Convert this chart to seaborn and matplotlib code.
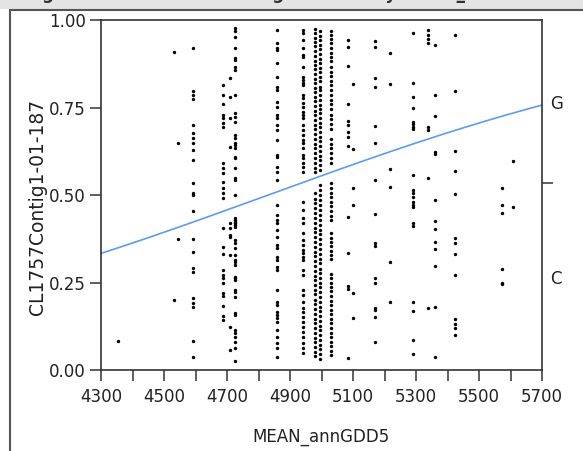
import numpy as np
import pandas as pd
import matplotlib
matplotlib.use("Agg")
import matplotlib.pyplot as plt
from matplotlib.lines import Line2D
from matplotlib.patches import Rectangle
import seaborn as sns

# Per-population GDD value (x) and the jittered response positions drawn for each
gdd_4354 = [0.083]
gdd_4533 = [0.909, 0.200]
gdd_4546 = [0.648, 0.374]
gdd_4593 = [0.920, 0.797, 0.786, 0.774, 0.700, 0.677, 0.663, 0.649, 0.629, 0.600,
            0.534, 0.506, 0.500, 0.454, 0.374, 0.337, 0.291, 0.280, 0.206, 0.191,
            0.180, 0.083, 0.037]
gdd_4686 = [0.814, 0.786, 0.760, 0.729, 0.720, 0.706, 0.694, 0.591, 0.577, 0.563,
            0.537, 0.520, 0.506, 0.491, 0.406, 0.351, 0.331, 0.286, 0.271, 0.263,
            0.249, 0.220, 0.211, 0.183, 0.154, 0.143]
gdd_4709 = [0.834, 0.780, 0.720, 0.637, 0.420, 0.406, 0.386, 0.380, 0.329, 0.123, 0.057]
gdd_4725 = [0.977, 0.969, 0.951, 0.920, 0.891, 0.886, 0.866, 0.857, 0.786, 0.734,
            0.723, 0.709, 0.671, 0.663, 0.649, 0.643, 0.634, 0.609, 0.606, 0.577,
            0.549, 0.543, 0.500, 0.434, 0.429, 0.423, 0.420, 0.414, 0.409, 0.371,
            0.363, 0.349, 0.329, 0.314, 0.309, 0.300, 0.266, 0.263, 0.257, 0.229,
            0.223, 0.209, 0.163, 0.157, 0.114, 0.106, 0.094, 0.080, 0.063, 0.026]
gdd_4860 = [0.971, 0.934, 0.920, 0.914, 0.877, 0.837, 0.809, 0.800, 0.766, 0.751,
            0.729, 0.720, 0.700, 0.686, 0.657, 0.614, 0.609, 0.580, 0.566, 0.543,
            0.471, 0.443, 0.429, 0.420, 0.400, 0.380, 0.357, 0.349, 0.323, 0.314,
            0.294, 0.286, 0.229, 0.194, 0.186, 0.166, 0.157, 0.149, 0.137, 0.114,
            0.094, 0.077, 0.063, 0.037]
gdd_4940 = [0.971, 0.963, 0.943, 0.920, 0.900, 0.894, 0.866, 0.837, 0.829, 0.820,
            0.814, 0.786, 0.777, 0.763, 0.751, 0.737, 0.729, 0.720, 0.700, 0.686,
            0.671, 0.657, 0.649, 0.634, 0.614, 0.606, 0.591, 0.580, 0.566,
            0.480, 0.457, 0.434, 0.420, 0.391, 0.371, 0.357, 0.343, 0.334, 0.323,
            0.314, 0.286, 0.271, 0.229, 0.214, 0.194, 0.177, 0.166, 0.151, 0.137,
            0.123, 0.109, 0.094, 0.077, 0.063, 0.049]
gdd_4978 = [0.975, 0.962, 0.948, 0.936, 0.925, 0.911, 0.898, 0.884, 0.872, 0.861,
            0.847, 0.832, 0.820, 0.806, 0.795, 0.781, 0.768, 0.754, 0.741, 0.729,
            0.715, 0.700, 0.688, 0.674, 0.660, 0.647, 0.633, 0.619, 0.606, 0.592,
            0.578, 0.565,
            0.505, 0.490, 0.476, 0.463, 0.448, 0.434, 0.421, 0.406, 0.394, 0.379,
            0.366, 0.352, 0.338, 0.325, 0.311, 0.297, 0.283, 0.270, 0.257, 0.243,
            0.229, 0.216, 0.201, 0.188, 0.175, 0.161, 0.147, 0.133, 0.120, 0.106,
            0.092, 0.079, 0.066, 0.052, 0.039]
gdd_4994 = [0.970, 0.955, 0.943, 0.930, 0.917, 0.903, 0.890, 0.878, 0.864, 0.852,
            0.838, 0.825, 0.810, 0.799, 0.786, 0.772, 0.758, 0.745, 0.733, 0.720,
            0.706, 0.693, 0.680, 0.667, 0.653, 0.640, 0.626, 0.612, 0.600, 0.585,
            0.572,
            0.530, 0.515, 0.500, 0.486, 0.471, 0.458, 0.443, 0.430, 0.415, 0.401,
            0.389, 0.374, 0.360, 0.346, 0.332, 0.318, 0.305, 0.290, 0.277, 0.262,
            0.249, 0.236, 0.222, 0.209, 0.194, 0.181, 0.168, 0.154, 0.140, 0.127,
            0.113, 0.099, 0.085, 0.072, 0.059, 0.045, 0.031]
gdd_5030 = [0.968, 0.957, 0.946, 0.934, 0.920, 0.905, 0.894, 0.883, 0.866, 0.852,
            0.840, 0.826, 0.815, 0.800, 0.786, 0.771, 0.760, 0.745, 0.729, 0.716,
            0.703, 0.689, 0.660, 0.646, 0.634, 0.620, 0.606, 0.592,
            0.535, 0.520, 0.506, 0.494, 0.480, 0.468, 0.455, 0.441, 0.430, 0.392,
            0.378, 0.366, 0.354, 0.341, 0.329, 0.316, 0.275, 0.262, 0.250, 0.237,
            0.225, 0.211, 0.198, 0.186, 0.172, 0.160, 0.146, 0.133, 0.120, 0.107,
            0.094, 0.081, 0.068, 0.055, 0.042]
gdd_5084 = [0.943, 0.923, 0.869, 0.760, 0.711, 0.700, 0.680, 0.666, 0.640,
            0.437, 0.334, 0.240, 0.231, 0.034]
gdd_5100 = [0.817, 0.631, 0.520, 0.471, 0.220, 0.149]
gdd_5170 = [0.940, 0.923, 0.834, 0.809, 0.697, 0.649, 0.543, 0.446, 0.363, 0.354,
            0.263, 0.249, 0.177, 0.171, 0.151, 0.080]
gdd_5218 = [0.906, 0.817, 0.574, 0.523, 0.309, 0.194]
gdd_5290 = [0.963, 0.820, 0.780, 0.749, 0.709, 0.703, 0.694, 0.689, 0.557, 0.514,
            0.506, 0.494, 0.480, 0.471, 0.466, 0.420, 0.411, 0.194, 0.169, 0.086, 0.046]
gdd_5338 = [0.971, 0.957, 0.946, 0.934, 0.694, 0.686, 0.549, 0.177]
gdd_5360 = [0.929, 0.786, 0.726, 0.623, 0.617, 0.486, 0.426, 0.403, 0.366, 0.346,
            0.297, 0.180, 0.037]
gdd_5424 = [0.957, 0.797, 0.626, 0.569, 0.503, 0.377, 0.363, 0.331, 0.271, 0.146,
            0.131, 0.120, 0.100]
gdd_5573 = [0.520, 0.471, 0.449, 0.289, 0.249, 0.246]
gdd_5608 = [0.597, 0.466]

columns = {
    4354: gdd_4354, 4533: gdd_4533, 4546: gdd_4546, 4593: gdd_4593,
    4686: gdd_4686, 4709: gdd_4709, 4725: gdd_4725, 4860: gdd_4860,
    4940: gdd_4940, 4978: gdd_4978, 4994: gdd_4994, 5030: gdd_5030,
    5084: gdd_5084, 5100: gdd_5100, 5170: gdd_5170, 5218: gdd_5218,
    5290: gdd_5290, 5338: gdd_5338, 5360: gdd_5360, 5424: gdd_5424,
    5573: gdd_5573, 5608: gdd_5608,
}

# Fitted logistic model: logit P = intercept + slope * GDD
fit_intercept = -6.314
fit_slope = 0.001307
c_share = 0.533          # overall proportion of the C allele
x_ticks = [4300, 4500, 4700, 4900, 5100, 5300, 5500, 5700]
y_ticks = [0.0, 0.25, 0.5, 0.75, 1.0]

points = pd.DataFrame(
    [(gdd, y) for gdd, ys in columns.items() for y in ys],
    columns=["MEAN_annGDD5", "CL1757Contig1-01-187"],
)
curve_x = np.linspace(4300, 5700, 200)
curve = pd.DataFrame({
    "MEAN_annGDD5": curve_x,
    "p": 1.0 / (1.0 + np.exp(-(fit_intercept + fit_slope * curve_x))),
})

sns.set_theme(style="white")
plt.rcParams["font.family"] = ["DejaVu Sans"]
text_color = "#222222"
frame_color = "#333333"

W, H = 583, 451
fig = plt.figure(figsize=(W / 100, H / 100), dpi=100)
fig.patch.set_facecolor("white")

# Window chrome: grey header strip with its heading, and the outline box
fig.patches.append(Rectangle((0, 1 - 9 / H), 1, 9 / H, transform=fig.transFigure,
                             facecolor="#e4e4e4", edgecolor="none", zorder=0))
fig.text(20 / W, 1 + 1 / H, "Logistic Fit of CL1757Contig1-01-187 By MEAN_annGDD5",
         fontsize=12, fontweight="bold", color="#333333", va="baseline", ha="left")
fig.add_artist(Line2D([9.5 / W, 1], [1 - 10 / H, 1 - 10 / H], transform=fig.transFigure,
                      color="#555555", lw=1.5))
fig.add_artist(Line2D([9.5 / W, 9.5 / W], [0, 1 - 10 / H], transform=fig.transFigure,
                      color="#555555", lw=1.5))

ax = fig.add_axes([101 / W, 1 - 370 / H, 441 / W, 350 / H])
sns.scatterplot(data=points, x="MEAN_annGDD5", y="CL1757Contig1-01-187", ax=ax,
                color="black", s=6, linewidth=0, zorder=3)
sns.lineplot(data=curve, x="MEAN_annGDD5", y="p", ax=ax, color="#5b9cf2",
             linewidth=1.2, zorder=2)

ax.set_xlim(4300, 5700)
ax.set_ylim(0, 1)
ax.set_xticks(x_ticks)
ax.set_xticklabels([str(t) for t in x_ticks])
ax.set_xticks([t + 100 for t in x_ticks[:-1]], minor=True)
ax.set_yticks(y_ticks)
ax.set_yticklabels([f"{t:.2f}" for t in y_ticks])
ax.tick_params(axis="x", which="both", direction="out", length=8, width=1.1,
               color=frame_color, labelsize=12, labelcolor=text_color, pad=5,
               bottom=True)
ax.tick_params(axis="y", which="both", direction="out", length=8, width=1.1,
               color=frame_color, labelsize=12, labelcolor=text_color, pad=3,
               left=True)
for sp in ax.spines.values():
    sp.set_visible(True)
    sp.set_color(frame_color)
    sp.set_linewidth(1.2)

ax.set_xlabel("MEAN_annGDD5", fontsize=12, color=text_color, labelpad=16)
ax.set_ylabel("")
fig.text(38 / W, 1 - 207 / H, "CL1757Contig1-01-187", rotation=90, fontsize=13.5,
         color=text_color, ha="center", va="center")

# Right-hand response axis: boundary tick between the alleles, labels centred per band
ax2 = ax.twinx()
ax2.set_ylim(0, 1)
ax2.set_yticks([c_share])
ax2.set_yticklabels([""])
ax2.set_yticks([c_share / 2, (1 + c_share) / 2], minor=True)
ax2.set_yticklabels(["C", "G"], minor=True)
ax2.tick_params(axis="y", which="major", direction="out", length=8, width=1.1,
                color=frame_color)
ax2.tick_params(axis="y", which="minor", length=0, labelsize=12,
                labelcolor=text_color, pad=6)
for sp in ax2.spines.values():
    sp.set_visible(False)
ax2.grid(False)

fig.savefig("out.png", dpi=100)
